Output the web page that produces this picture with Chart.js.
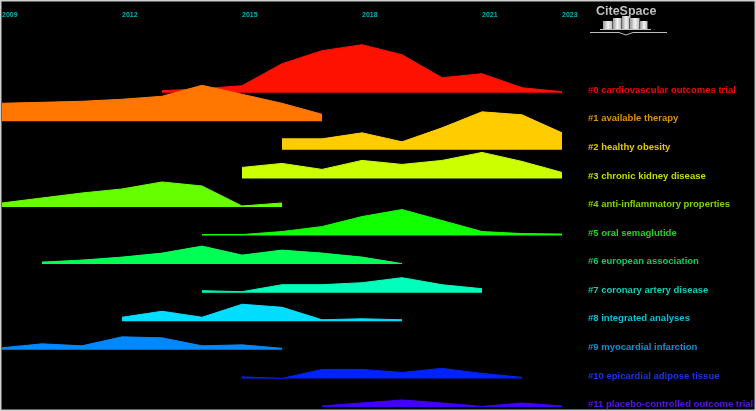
<!DOCTYPE html>
<html>
<head>
<meta charset="utf-8">
<script src="https://cdn.jsdelivr.net/npm/chart.js@4.4.1/dist/chart.umd.min.js"></script>
<style>
  html, body { margin: 0; padding: 0; background: #000; }
  canvas { display: block; }
</style>
</head>
<body>
<canvas id="landscape" width="756" height="411"></canvas>
<script>
const years = [2009, 2010, 2011, 2012, 2013, 2014, 2015, 2016, 2017, 2018, 2019, 2020, 2021, 2022, 2023];
const tickYears = [2009, 2012, 2015, 2018, 2021, 2023];

const clusterNames = [
    '#0 cardiovascular outcomes trial',
    '#1 available therapy',
    '#2 healthy obesity',
    '#3 chronic kidney disease',
    '#4 anti-inflammatory properties',
    '#5 oral semaglutide',
    '#6 european association',
    '#7 coronary artery disease',
    '#8 integrated analyses',
    '#9 myocardial infarction',
    '#10 epicardial adipose tissue',
    '#11 placebo-controlled outcome trial'
];

// height of each cluster per year (null = cluster not active)
const c0  = [null, null, null, null, 2, 4, 7, 29, 42, 48, 38, 15, 19, 5, 1];
const c1  = [18, 19, 20, 22, 25, 36, 27, 18, 7, null, null, null, null, null, null];
const c2  = [null, null, null, null, null, null, null, 11, 11, 17, 8, 22, 38, 35, 17];
const c3  = [null, null, null, null, null, null, 11, 15, 9, 18, 14, 18, 26, 17, 6];
const c4  = [4, 9, 14, 18, 25, 21, 1, 4, null, null, null, null, null, null, null];
const c5  = [null, null, null, null, null, 1, 1, 4, 9, 19, 26, 15, 4, 2, 1.5];
const c6  = [null, 2, 4, 7, 11, 18, 9, 14, 11, 7, 0.5, null, null, null, null];
const c7  = [null, null, null, null, null, 2, 1, 8, 8, 10, 15, 8, 4, null, null];
const c8  = [null, null, null, 4, 10, 4, 17, 14, 1.5, 2.5, 1.5, null, null, null, null];
const c9  = [2, 6, 4, 13, 12, 4, 5, 1.5, null, null, null, null, null, null, null];
const c10 = [null, null, null, null, null, null, 1.5, 0, 9, 9, 6, 10, 5, 1, null];
const c11 = [null, null, null, null, null, null, null, null, 1, 4, 7, 4, 0.5, 4, 1];

const clusterValues = [c0, c1, c2, c3, c4, c5, c6, c7, c8, c9, c10, c11];

const fillColors = ['#ff1100', '#ff7700', '#ffcc00', '#ccff00', '#66ff00', '#11ff00',
    '#00ff55', '#00ffbb', '#00ddff', '#0088ff', '#0022ff', '#4400ff'];
const labelColors = ['#ee0a00', '#dc9010', '#e2c800', '#c2de00', '#7ed600', '#22d022',
    '#10c860', '#10ccb8', '#10bcdc', '#1090d4', '#1438e4', '#5812e4'];

const H = 411;
const ROW_TOP = 92.7;
const ROW_GAP = 28.57;
function rowBase(i) {
    return H - (ROW_TOP + ROW_GAP * i);
}

const datasets = clusterValues.map(function(vals, i) {
    const base = rowBase(i);
    return {
        label: clusterNames[i],
        data: vals.map(function(v, k) {
            return { x: years[k], y: v === null ? null : base + v };
        }),
        fill: { value: base },
        backgroundColor: fillColors[i],
        borderColor: fillColors[i],
        borderWidth: 1,
        pointRadius: 0,
        tension: 0,
        spanGaps: false,
        order: clusterValues.length - i
    };
});

const decorations = {
    id: 'decorations',
    beforeDraw(chart) {
        const ctx = chart.ctx;
        ctx.save();
        ctx.fillStyle = '#000';
        ctx.fillRect(0, 0, chart.width, chart.height);
        ctx.restore();
    },
    afterDraw(chart) {
        const ctx = chart.ctx;
        const x = chart.scales.x;
        const y = chart.scales.y;
        ctx.save();

        // year ticks along the top
        ctx.font = 'bold 7px "Liberation Sans", Arial, sans-serif';
        ctx.fillStyle = '#00b4b4';
        ctx.textAlign = 'left';
        ctx.textBaseline = 'middle';
        tickYears.forEach(function(yr) {
            ctx.fillText(String(yr), x.getPixelForValue(yr), 15.5);
        });

        // cluster labels
        ctx.font = 'bold 9.5px "Liberation Sans", Arial, sans-serif';
        clusterNames.forEach(function(name, i) {
            ctx.fillStyle = labelColors[i];
            ctx.fillText(name, 588, y.getPixelForValue(rowBase(i)) - 2.5);
        });

        // CiteSpace logo
        const g = ctx.createLinearGradient(0, 4, 0, 16);
        g.addColorStop(0, '#e0e0e0');
        g.addColorStop(1, '#a8a8a8');
        ctx.fillStyle = g;
        ctx.font = 'bold 12.5px "Liberation Sans", Arial, sans-serif';
        ctx.textBaseline = 'alphabetic';
        ctx.fillText('CiteSpace', 596, 15);

        const bars = [[603, 21], [613, 18], [622, 16], [630, 18], [640, 21]];
        const widths = [10, 9, 8, 10, 8];
        bars.forEach(function(b, k) {
            const bg = ctx.createLinearGradient(b[0], 0, b[0] + widths[k], 0);
            bg.addColorStop(0, '#9a9a9a');
            bg.addColorStop(0.5, '#f4f4f4');
            bg.addColorStop(1, '#b0b0b0');
            ctx.fillStyle = bg;
            ctx.fillRect(b[0], b[1], widths[k] - 0.5, 29 - b[1]);
        });
        ctx.strokeStyle = '#bdbdbd';
        ctx.lineWidth = 1;
        ctx.beginPath();
        ctx.moveTo(600, 29.5);
        ctx.lineTo(651, 29.5);
        ctx.moveTo(590, 32.5);
        ctx.lineTo(619, 32.5);
        ctx.lineTo(626, 35);
        ctx.lineTo(633, 32.5);
        ctx.lineTo(667, 32.5);
        ctx.stroke();

        // frame
        ctx.strokeStyle = '#cfcfcf';
        ctx.lineWidth = 1.5;
        ctx.strokeRect(0.75, 0.75, chart.width - 1.5, chart.height - 1.5);
        ctx.restore();
    }
};

const config = {
    type: 'line',
    data: { datasets: datasets },
    options: {
        responsive: false,
        animation: false,
        layout: { padding: { left: 2, right: 194, top: 0, bottom: 0 } },
        scales: {
            x: { type: 'linear', min: 2009, max: 2023, display: false },
            y: { min: 0, max: H, display: false }
        },
        plugins: {
            legend: { display: false },
            tooltip: { enabled: false }
        }
    },
    plugins: [decorations]
};

const landscapeChart = new Chart(document.getElementById('landscape'), config);
</script>
</body>
</html>
